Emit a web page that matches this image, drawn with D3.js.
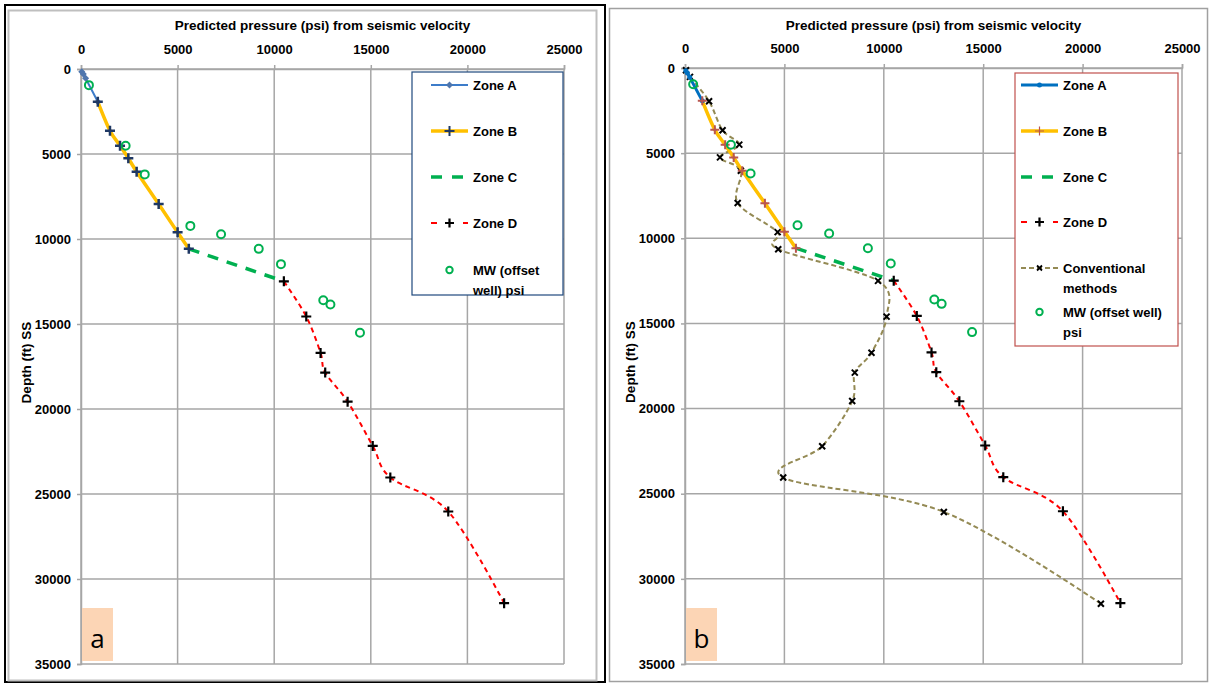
<!DOCTYPE html>
<html>
<head>
<meta charset="utf-8">
<script src="https://cdn.jsdelivr.net/npm/d3@7"></script>
<style>
  html, body { margin: 0; padding: 0; background: #fff; }
  svg { display: block; font-family: "Liberation Sans", Arial, sans-serif; }
</style>
</head>
<body>
<svg id="chart" width="1212" height="684"></svg>
<script>
// Predicted pore pressure (psi) against depth (ft SS): [psi, depth]
const zoneA = [[40, 160], [120, 300], [240, 550], [870, 1930]];
const zoneB = [[870, 1930], [1500, 3630], [2020, 4510], [2450, 5250], [2880, 6040],
               [4020, 7940], [5000, 9610], [5580, 10580]];
const zoneC = [[5580, 10580], [10500, 12490]];
const zoneD = [[10500, 12490], [11660, 14560], [12400, 16700], [12640, 17860], [13800, 19570],
               [15100, 22170], [16010, 24030], [19010, 26030], [21900, 31420]];
// Mud weight from the offset well, psi
const mudWeight = [[410, 950], [2310, 4510], [3300, 6200], [5660, 9230], [7250, 9720],
                   [9200, 10580], [10350, 11480], [12540, 13600], [12910, 13850], [14440, 15510]];
// Pressure from conventional methods
const conventional = [[50, 130], [250, 520], [1210, 1950], [1890, 3660], [2730, 4500],
                      [1760, 5250], [2810, 6030], [2650, 7930], [4660, 9640], [4690, 10640],
                      [9710, 12500], [10140, 14600], [9380, 16720], [8540, 17890], [8410, 19560],
                      [6900, 22210], [4940, 24050], [13020, 26070], [20920, 31460]];

const xTicks = [0, 5000, 10000, 15000, 20000, 25000];
const yTicks = [0, 5000, 10000, 15000, 20000, 25000, 30000, 35000];
const xTitle = "Predicted pressure (psi) from seismic velocity";
const yTitle = "Depth (ft) SS";
const legendLeft = ["Zone A", "Zone B", "Zone C", "Zone D", "MW (offset|well) psi"];
const legendRight = ["Zone A", "Zone B", "Zone C", "Zone D", "Conventional|methods", "MW (offset well)|psi"];

const svg = d3.select("#chart");
const smooth = d3.curveCardinal.tension(0);

// Panel frames
svg.append("rect").attr("x", 5).attr("y", 5).attr("width", 600).attr("height", 677)
  .attr("fill", "none").attr("stroke", "#000").attr("stroke-width", 2);
svg.append("rect").attr("x", 8.5).attr("y", 10.5).attr("width", 588).attr("height", 670)
  .attr("fill", "none").attr("stroke", "#bfbfbf").attr("stroke-width", 2);
svg.append("rect").attr("x", 609.5).attr("y", 8.5).attr("width", 598).attr("height", 673)
  .attr("fill", "none").attr("stroke", "#a0a0a0").attr("stroke-width", 1.5);

function marker(g, type, pts, x, y, color, size, sw) {
  const sel = g.selectAll(null).data(pts).enter();
  if (type === "plus") {
    sel.append("path")
      .attr("d", d => { const cx = x(d[0]), cy = y(d[1]);
        return `M${cx - size},${cy}H${cx + size}M${cx},${cy - size}V${cy + size}`; })
      .attr("stroke", color).attr("stroke-width", sw).attr("fill", "none");
  } else if (type === "cross") {
    sel.append("path")
      .attr("d", d => { const cx = x(d[0]), cy = y(d[1]);
        return `M${cx - size},${cy - size}L${cx + size},${cy + size}M${cx - size},${cy + size}L${cx + size},${cy - size}`; })
      .attr("stroke", color).attr("stroke-width", sw).attr("fill", "none");
  } else if (type === "diamond") {
    sel.append("path")
      .attr("d", d => { const cx = x(d[0]), cy = y(d[1]);
        return `M${cx},${cy - size}L${cx + size},${cy}L${cx},${cy + size}L${cx - size},${cy}Z`; })
      .attr("fill", color);
  } else if (type === "dot") {
    sel.append("circle").attr("cx", d => x(d[0])).attr("cy", d => y(d[1])).attr("r", size)
      .attr("fill", color);
  } else if (type === "ring") {
    sel.append("circle").attr("cx", d => x(d[0])).attr("cy", d => y(d[1])).attr("r", size)
      .attr("fill", "none").attr("stroke", color).attr("stroke-width", sw);
  }
}

function drawPanel(o) {
  const x = d3.scaleLinear().domain([0, 25000]).range([o.left, o.right]);
  const y = d3.scaleLinear().domain([0, 35000]).range([o.top, o.bottom]);
  const g = svg.append("g");

  // Gridlines
  g.selectAll(null).data(xTicks).enter().append("line")
    .attr("x1", d => x(d)).attr("x2", d => x(d)).attr("y1", o.top).attr("y2", o.bottom)
    .attr("stroke", "#a6a6a6").attr("stroke-width", 1.5);
  g.selectAll(null).data(yTicks).enter().append("line")
    .attr("x1", o.left).attr("x2", o.right).attr("y1", d => y(d)).attr("y2", d => y(d))
    .attr("stroke", "#a6a6a6").attr("stroke-width", 1.5);

  // Axes
  const ax = g.append("g").attr("transform", `translate(0,${o.top})`)
    .call(d3.axisTop(x).tickValues(xTicks).tickSize(4).tickPadding(11).tickFormat(d3.format("d")));
  const ay = g.append("g").attr("transform", `translate(${o.left},0)`)
    .call(d3.axisLeft(y).tickValues(yTicks).tickSize(4).tickPadding(6).tickFormat(d3.format("d")));
  [ax, ay].forEach(a => {
    a.select(".domain").attr("stroke", "#a6a6a6").attr("stroke-width", 1.5);
    a.selectAll(".tick line").attr("stroke", "#a6a6a6").attr("stroke-width", 1.5);
    a.selectAll(".tick text").attr("fill", "#000").attr("font-size", 13)
      .attr("font-weight", "bold").attr("font-family", "Liberation Sans, Arial, sans-serif");
  });

  // Titles
  g.append("text").attr("x", (o.left + o.right) / 2).attr("y", 30)
    .attr("text-anchor", "middle").attr("font-size", 13.5).attr("font-weight", "bold").text(xTitle);
  g.append("text").attr("transform", `translate(${o.left - 50},${(o.top + o.bottom) / 2 - 4}) rotate(-90)`)
    .attr("text-anchor", "middle").attr("font-size", 13.5).attr("font-weight", "bold").text(yTitle);

  const line = d3.line().x(d => x(d[0])).y(d => y(d[1])).curve(smooth);

  // Series
  if (o.conventional) {
    g.append("path").attr("d", line(conventional)).attr("fill", "none")
      .attr("stroke", "#948a54").attr("stroke-width", 2).attr("stroke-dasharray", "5,3");
    marker(g, "cross", conventional, x, y, "#000", 3, 2);
  }
  g.append("path").attr("d", line(zoneA)).attr("fill", "none")
    .attr("stroke", o.aColor).attr("stroke-width", o.aWidth);
  g.append("path").attr("d", line(zoneB)).attr("fill", "none")
    .attr("stroke", "#ffc000").attr("stroke-width", 3.5);
  g.append("path").attr("d", line(zoneC)).attr("fill", "none")
    .attr("stroke", "#00b050").attr("stroke-width", 3.5).attr("stroke-dasharray", "11,9");
  g.append("path").attr("d", line(zoneD)).attr("fill", "none")
    .attr("stroke", "#ff0000").attr("stroke-width", 2).attr("stroke-dasharray", "5,4");

  if (o.conventional) {
    marker(g, "dot", zoneA, x, y, "#0070c0", 2.5, 0);
    marker(g, "plus", zoneB, x, y, "#b9564f", 4.5, 2);
  } else {
    marker(g, "diamond", zoneA, x, y, "#4f76ad", 3.5, 0);
    marker(g, "plus", zoneB, x, y, "#1f3864", 5, 2.5);
  }
  marker(g, "plus", zoneD, x, y, "#000", 5, 2.2);
  marker(g, "ring", mudWeight, x, y, "#00b050", 4, 2);

  // Label box
  g.append("rect").attr("x", o.left + 1).attr("y", 608).attr("width", 31).attr("height", 53)
    .attr("fill", "#fcd5b5");
  g.append("text").attr("x", o.left + 16.5).attr("y", 648).attr("text-anchor", "middle")
    .attr("font-size", 26).attr("font-family", "Open Sans, Liberation Sans, sans-serif")
    .attr("fill", "#000").text(o.tag);

  // Legend
  const L = o.legend;
  g.append("rect").attr("x", L.x).attr("y", L.y).attr("width", L.w).attr("height", L.h)
    .attr("fill", "#fff").attr("stroke", L.stroke).attr("stroke-width", 1.2);
  const names = o.conventional ? legendRight : legendLeft;
  names.forEach((name, i) => {
    const cy = L.rows[i];
    const x0 = L.sx, x1 = L.sx + 37, xm = (x0 + x1) / 2;
    const lg = g.append("g");
    const one = (px, py) => [[px, py]];
    const lx = d3.scaleLinear().domain([0, 1]).range([0, 1]);
    if (name === "Zone A") {
      lg.append("line").attr("x1", x0).attr("x2", x1).attr("y1", cy).attr("y2", cy)
        .attr("stroke", o.aColor).attr("stroke-width", o.aWidth);
      if (o.conventional) marker(lg, "dot", one(xm, cy), lx, lx, "#0070c0", 2.5, 0);
      else marker(lg, "diamond", one(xm, cy), lx, lx, "#4f76ad", 3.5, 0);
    } else if (name === "Zone B") {
      lg.append("line").attr("x1", x0).attr("x2", x1).attr("y1", cy).attr("y2", cy)
        .attr("stroke", "#ffc000").attr("stroke-width", 3.5);
      if (o.conventional) marker(lg, "plus", one(xm, cy), lx, lx, "#b9564f", 4.5, 1.2);
      else marker(lg, "plus", one(xm, cy), lx, lx, "#1f3864", 5, 2);
    } else if (name === "Zone C") {
      lg.append("line").attr("x1", x0).attr("x2", x1).attr("y1", cy).attr("y2", cy)
        .attr("stroke", "#00b050").attr("stroke-width", 3.5).attr("stroke-dasharray", "11,10");
    } else if (name === "Zone D") {
      lg.append("line").attr("x1", x0).attr("x2", x1).attr("y1", cy).attr("y2", cy)
        .attr("stroke", "#ff0000").attr("stroke-width", 2).attr("stroke-dasharray", "6,10");
      marker(lg, "plus", one(xm, cy), lx, lx, "#000", 4.5, 2.2);
    } else if (name.startsWith("Conventional")) {
      lg.append("line").attr("x1", x0).attr("x2", x1).attr("y1", cy).attr("y2", cy)
        .attr("stroke", "#948a54").attr("stroke-width", 2).attr("stroke-dasharray", "5,3");
      marker(lg, "cross", one(xm, cy), lx, lx, "#000", 2.5, 1.8);
    } else {
      marker(lg, "ring", one(xm, cy), lx, lx, "#00b050", 3.2, 2);
    }
    const parts = name.split("|");
    const t = lg.append("text").attr("x", L.sx + 42).attr("y", cy + 5)
      .attr("font-size", 13).attr("font-weight", "bold").attr("fill", "#000");
    parts.forEach((p, k) => {
      t.append("tspan").attr("x", L.sx + 42).attr("dy", k === 0 ? 0 : 20).text(p);
    });
  });
}

drawPanel({
  left: 81, right: 564, top: 69, bottom: 664, tag: "a", conventional: false,
  aColor: "#3d7cc9", aWidth: 2,
  legend: { x: 412, y: 72, w: 151, h: 223, stroke: "#1f497d", sx: 431,
            rows: [85, 131, 177, 223, 270] }
});
drawPanel({
  left: 685, right: 1182, top: 68, bottom: 664, tag: "b", conventional: true,
  aColor: "#0070c0", aWidth: 3,
  legend: { x: 1015, y: 73, w: 163, h: 273, stroke: "#c0504d", sx: 1021,
            rows: [85, 131, 177, 222, 268, 312] }
});
</script>
</body>
</html>
